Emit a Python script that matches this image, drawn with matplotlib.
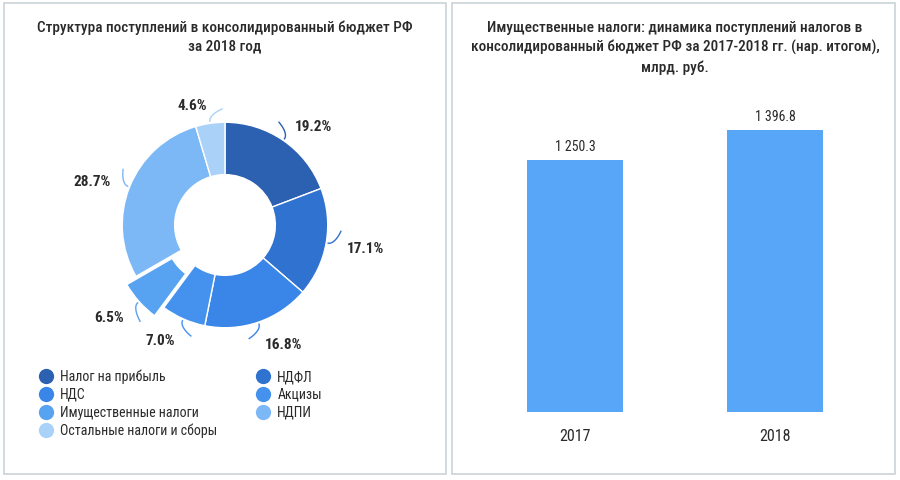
import numpy as np
import matplotlib
matplotlib.use("Agg")
from matplotlib import pyplot as plt
from matplotlib.lines import Line2D
from matplotlib.patches import Rectangle

# donut: budget revenue structure 2018 (clockwise from top)
tax_names = ["Налог на прибыль", "НДФЛ", "НДС", "Акцизы",
             "Имущественные налоги", "НДПИ", "Остальные налоги и сборы"]
tax_shares = [19.2, 17.1, 16.8, 7.0, 6.5, 28.7, 4.6]
tax_colors = ["#2C60B0", "#2F72D0", "#3A85E8", "#4592EE", "#58A2F2", "#7DB8F6", "#AAD2F9"]

# bars: property taxes, bln rub
years = ["2017", "2018"]
property_tax = [1250.3, 1396.8]

W, H = 900, 480
TEXT = "#2A2A2A"
FONT = ["Roboto Condensed", "DejaVu Sans"]
plt.rcParams["font.family"] = FONT

fig = plt.figure(figsize=(W / 100, H / 100), dpi=100, facecolor="white")


def px(x, y):
    return x / W, 1 - y / H


# panel frames
for x0, x1 in [(4, 446), (452, 895)]:
    fig.patches.append(Rectangle(px(x0, 474), (x1 - x0) / W, (474 - 3) / H,
                                 transform=fig.transFigure, fill=False,
                                 edgecolor="#C9D3D8", linewidth=1.2))

# titles
fig.text(*px(225, 37), "Структура поступлений в консолидированный бюджет РФ\nза 2018 год",
         ha="center", va="center", fontsize=11, fontweight="medium", color=TEXT,
         linespacing=1.45)
fig.text(*px(675, 48), "Имущественные налоги: динамика поступлений налогов в\n"
         "консолидированный бюджет РФ за 2017-2018 гг. (нар. итогом),\nмлрд. руб.",
         ha="center", va="center", fontsize=11, fontweight="medium", color=TEXT,
         linespacing=1.45)

# ---- donut ----
side = 300
cx, cy = 225, 225
ax = fig.add_axes([(cx - side / 2) / W, 1 - (cy + side / 2) / H, side / W, side / H])

explode = [0.12 if n == "Имущественные налоги" else 0 for n in tax_names]
wedges, _ = ax.pie(tax_shares, colors=tax_colors, startangle=90, counterclock=False,
                   explode=explode, radius=1.0,
                   wedgeprops=dict(width=0.51, edgecolor="white", linewidth=1.0))
lim = 1.46
ax.set_xlim(-lim, lim)
ax.set_ylim(-lim, lim)
ax.set_aspect("equal")
ax.axis("off")

for w, share, ex in zip(wedges, tax_shares, explode):
    ang = np.deg2rad((w.theta1 + w.theta2) / 2)
    ca, sa = np.cos(ang), np.sin(ang)
    r0 = 1.0 + ex
    # short curved leader line
    t = np.linspace(0, 1, 12)
    rr = r0 + 0.02 + 0.11 * t
    aa = ang + np.sign(ca) * 0.12 * t ** 2 * np.sign(sa if abs(sa) > 0.2 else 1)
    ax.plot(rr * np.cos(aa), rr * np.sin(aa), color=w.get_facecolor(), linewidth=1.0)
    lr = r0 + 0.2
    ax.text(lr * ca, lr * sa - 0.03, f"{share:.1f}%", ha="left" if ca > 0 else "right",
            va="center", fontsize=11, fontweight="bold", color=TEXT)

order = [0, 2, 4, 6, 1, 3, 5]
handles = [Line2D([], [], linestyle="none", marker="o", markersize=11,
                  markerfacecolor=tax_colors[i], markeredgecolor="none") for i in order]
labels = [tax_names[i] for i in order]
fig.legend(handles, labels, ncol=2, loc="upper left", bbox_to_anchor=px(27, 357),
           frameon=False, fontsize=10, labelcolor=TEXT, handlelength=1.0,
           handletextpad=0.5, labelspacing=0.28, columnspacing=2.8)

# ---- bars ----
bx = fig.add_axes([475 / W, (H - 412) / H, 400 / W, 312 / H])
pos = np.arange(len(years))
bars = bx.bar(pos, property_tax, width=0.48, color="#57A6F8")
bx.set_xlim(-0.5, len(years) - 0.5)
bx.set_ylim(0, 1545)
for b, v in zip(bars, property_tax):
    lab = f"{v:,.1f}".replace(",", " ")
    bx.annotate(lab, (b.get_x() + b.get_width() / 2, v), xytext=(0, 4),
                textcoords="offset points", ha="center", va="bottom",
                fontsize=10, color=TEXT)
bx.set_xticks(pos)
bx.set_xticklabels(years, fontsize=11.5, color=TEXT)
bx.tick_params(axis="x", length=0, pad=12)
bx.set_yticks([])
for s in bx.spines.values():
    s.set_visible(False)

fig.savefig("out.png", dpi=100, facecolor="white")
